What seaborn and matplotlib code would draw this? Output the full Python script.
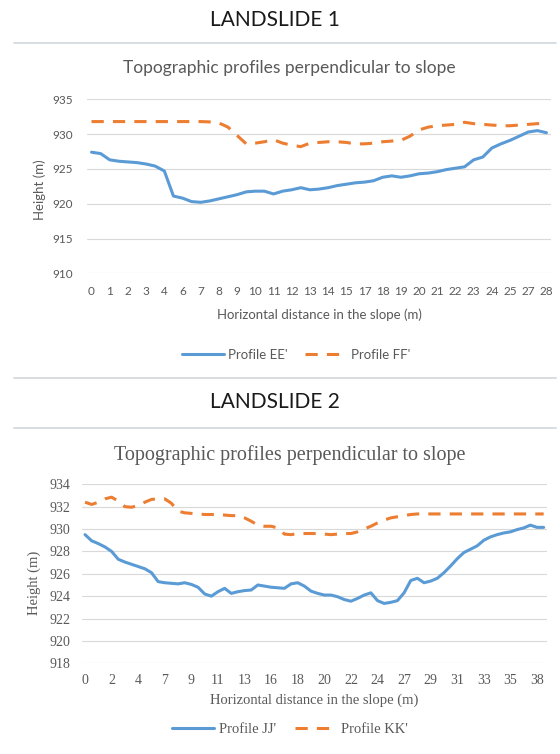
import matplotlib
matplotlib.use("Agg")
import matplotlib.pyplot as plt
from matplotlib.lines import Line2D
import numpy as np
import seaborn as sns

# Landslide 1 - profiles EE' and FF' (one value per surveyed point)
ee_heights = [927.4, 927.2, 926.3, 926.1, 926.0, 925.9, 925.7, 925.4, 924.7, 921.1,
              920.8, 920.3, 920.2, 920.4, 920.7, 921.0, 921.3, 921.7, 921.8, 921.8,
              921.4, 921.8, 922.0, 922.3, 922.0, 922.1, 922.3, 922.6, 922.8, 923.0,
              923.1, 923.3, 923.8, 924.0, 923.8, 924.0, 924.3, 924.4, 924.6, 924.9,
              925.1, 925.3, 926.3, 926.7, 928.0, 928.6, 929.1, 929.7, 930.3, 930.5,
              930.2]
ff_heights = [931.8, 931.8, 931.8, 931.8, 931.8, 931.8, 931.8, 931.8, 931.8, 931.8,
              931.8, 931.8, 931.8, 931.75, 931.6, 931.0, 929.8, 928.6, 928.7, 928.9,
              929.2, 928.7, 928.4, 928.2, 928.7, 928.8, 928.9, 928.9, 928.8, 928.6,
              928.6, 928.7, 928.9, 929.0, 929.1, 929.7, 930.6, 931.0, 931.2, 931.3,
              931.4, 931.7, 931.5, 931.4, 931.3, 931.2, 931.2, 931.3, 931.4, 931.5,
              931.6]
ls1_ticklabels = ["0", "1", "2", "3", "4", "6", "7", "8", "9", "10", "11", "12", "13",
                  "14", "15", "17", "18", "19", "20", "21", "22", "23", "24", "25", "27", "28"]

# Landslide 2 - profiles JJ' and KK'
jj_heights = [929.5, 928.95, 928.7, 928.4, 928.0, 927.3, 927.05, 926.85, 926.65, 926.45,
              926.1, 925.3, 925.2, 925.15, 925.1, 925.2, 925.05, 924.8, 924.2, 924.0,
              924.4, 924.7, 924.25, 924.4, 924.5, 924.55, 925.0, 924.9, 924.8, 924.75,
              924.7, 925.1, 925.2, 924.9, 924.45, 924.25, 924.1, 924.1, 923.95, 923.7,
              923.55, 923.8, 924.1, 924.3, 923.6, 923.35, 923.45, 923.6, 924.3, 925.4,
              925.6, 925.2, 925.35, 925.6, 926.1, 926.7, 927.35, 927.9, 928.2, 928.5,
              929.0, 929.3, 929.5, 929.65, 929.75, 929.95, 930.1, 930.35, 930.15, 930.15]
kk_heights = [932.4, 932.2, 932.4, 932.7, 932.85, 932.5, 932.0, 931.95, 932.1, 932.4,
              932.65, 932.7, 932.7, 932.3, 931.6, 931.45, 931.4, 931.35, 931.3, 931.3,
              931.3, 931.25, 931.2, 931.2, 931.0, 930.7, 930.35, 930.25, 930.25, 930.1,
              929.55, 929.5, 929.6, 929.6, 929.6, 929.6, 929.55, 929.5, 929.55, 929.6,
              929.6, 929.75, 930.0, 930.25, 930.55, 930.8, 931.0, 931.1, 931.2, 931.3,
              931.35, 931.35, 931.35, 931.35, 931.35, 931.35, 931.35, 931.35, 931.35, 931.35,
              931.35, 931.35, 931.35, 931.35, 931.35, 931.35, 931.35, 931.35, 931.35, 931.35]
ls2_ticklabels = ["0", "2", "4", "7", "9", "11", "13", "16", "18", "20", "22", "24",
                  "27", "29", "31", "33", "35", "38"]

BLUE = "#5B9BD5"
ORANGE = "#ED7D31"
GREY = "#595959"
GRID = "#d9d9d9"

sns.set_style("white")
plt.rcParams["font.family"] = ["Lato", "DejaVu Sans"]

fig = plt.figure(figsize=(5.6, 7.54), dpi=100)


def px(y):
    return 1 - y / 754


def separator(y):
    fig.add_artist(Line2D([14 / 560, 556 / 560], [px(y), px(y)],
                          transform=fig.transFigure, color="#d3dadd", lw=1.3))


def draw_profile(ax, h1, h2, lab1, lab2, ticklabels, step, ylim, yticks, font, fs):
    idx = np.arange(len(h1))
    sns.lineplot(x=idx, y=h1, ax=ax, color=BLUE, linewidth=2.2, label=lab1)
    sns.lineplot(x=idx, y=h2, ax=ax, color=ORANGE, linewidth=2.2,
                 linestyle=(0, (4, 3)), label=lab2)
    handles, labels = ax.get_legend_handles_labels()
    ax.get_legend().remove()

    ax.set_xlim(-0.5, len(h1) - 0.5)
    ax.set_ylim(*ylim)
    ax.set_yticks(yticks)
    ax.set_xticks(np.arange(0, step * len(ticklabels), step))
    ax.set_xticklabels(ticklabels)
    ax.grid(axis="y", color=GRID, lw=0.8)
    ax.set_axisbelow(True)
    sns.despine(ax=ax, left=True, bottom=True)
    ax.tick_params(length=0, labelcolor=GREY, labelsize=fs)
    for t in ax.get_xticklabels() + ax.get_yticklabels():
        t.set_family(font)
    return handles, labels


# ---- Landslide 1 ----
fig.text(275 / 560, px(20.5), "LANDSLIDE 1", ha="center", va="center",
         fontsize=15, color="#1a1a1a")
separator(42.7)
fig.text(289 / 560, px(68), "Topographic profiles perpendicular to slope",
         ha="center", va="center", fontsize=12.5, color=GREY)

ax1 = fig.add_axes([87 / 560, px(273.3), 464 / 560, 174 / 754])
h, l = draw_profile(ax1, ee_heights, ff_heights, "Profile EE'", "Profile FF'",
                    ls1_ticklabels, 2, (910, 935), range(910, 936, 5),
                    ["Lato", "DejaVu Sans"], 8.5)
ax1.tick_params(axis="x", pad=9)
ax1.tick_params(axis="y", pad=10)
ax1.set_xlabel("Horizontal distance in the slope (m)", fontsize=9.5, color=GREY)
ax1.xaxis.set_label_coords(0.5, (273.3 - 315) / 174)
ax1.xaxis.label.set_va("center")
ax1.set_ylabel("Height (m)", fontsize=9.5, color=GREY)
ax1.yaxis.set_label_coords((40 - 87) / 464, (273.3 - 190) / 174)
ax1.yaxis.label.set_va("center")
fig.legend(h, l, loc="center", bbox_to_anchor=(296 / 560, px(355)), ncol=2,
           frameon=False, fontsize=9.5, handlelength=3.2, handletextpad=0.3,
           columnspacing=1.3, labelcolor=GREY)
separator(378)

# ---- Landslide 2 ----
serif = ["Liberation Serif", "DejaVu Serif"]
fig.text(275 / 560, px(401.7), "LANDSLIDE 2", ha="center", va="center",
         fontsize=15, color="#1a1a1a")
separator(428)
fig.text(289.5 / 560, px(455), "Topographic profiles perpendicular to slope",
         ha="center", va="center", fontsize=14.5, color=GREY, family=serif)

ax2 = fig.add_axes([81.7 / 560, px(663.3), 465.3 / 560, 179 / 754])
h, l = draw_profile(ax2, jj_heights, kk_heights, "Profile JJ'", "Profile KK'",
                    ls2_ticklabels, 4, (918, 934), range(918, 935, 2), serif, 10)
ax2.tick_params(axis="x", pad=8)
ax2.tick_params(axis="y", pad=8)
ax2.set_xlabel("Horizontal distance in the slope (m)", fontsize=10.5, color=GREY,
               family=serif)
ax2.xaxis.set_label_coords(0.5, (663.3 - 700) / 179)
ax2.xaxis.label.set_va("center")
ax2.set_ylabel("Height (m)", fontsize=10.5, color=GREY, family=serif)
ax2.yaxis.set_label_coords((34.3 - 81.7) / 465.3, (663.3 - 583) / 179)
ax2.yaxis.label.set_va("center")
fig.legend(h, l, loc="center", bbox_to_anchor=(290 / 560, px(729)), ncol=2,
           frameon=False, handlelength=2.9, handletextpad=0.3, columnspacing=1.3,
           labelcolor=GREY, prop={"family": serif, "size": 10.5})

fig.savefig("out.png", dpi=100)
